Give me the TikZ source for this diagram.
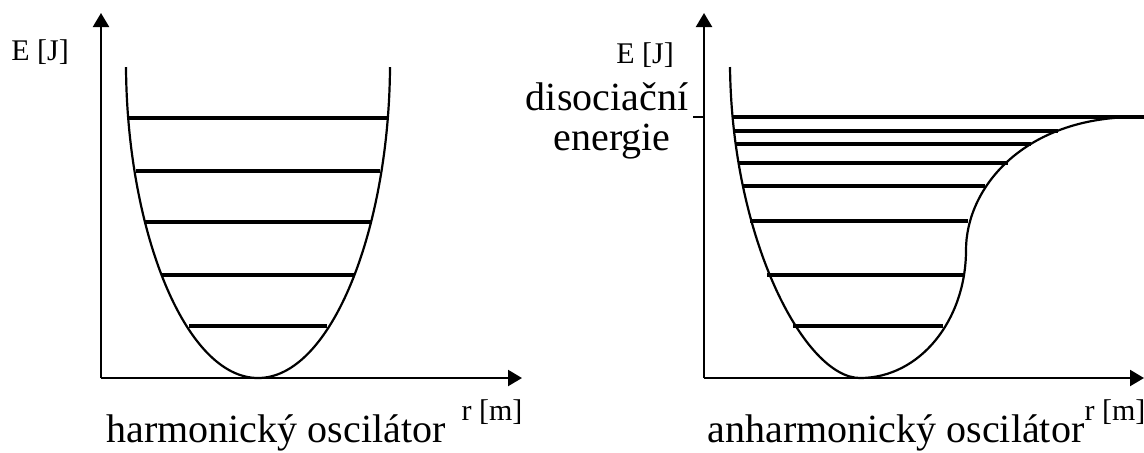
\documentclass[tikz,border=0pt]{standalone}
\usepackage{fontspec}
\setmainfont{Liberation Serif}
\usepackage{tikz}
\usetikzlibrary{arrows.meta,positioning}

\begin{document}
\begin{tikzpicture}[x=0.5pt, y=-0.5pt, >={Triangle[length=7pt,width=8pt]},
    axis/.style={line width=1.1pt},
    curve/.style={line width=1.1pt},
    level/.style={line width=1.6pt},
    unitlabel/.style={font=\fontsize{15}{18}\selectfont, inner sep=0pt},
    caption/.style={font=\fontsize{20}{24}\selectfont, inner sep=0pt}]
    \useasboundingbox (0,0) rectangle (1144,452);

    % Harmonic oscillator: axes
    \coordinate (O1) at (101,378);
    \coordinate (Y1) at (101,13);
    \coordinate (X1) at (522,378);
    \draw[axis,->] (O1) -- (Y1);
    \draw[axis,->] (O1) -- (X1);
    \node[unitlabel] (E1) at (40,52) {E [J]};
    \node[unitlabel] (R1) at (492,412) {r [m]};
    \node[caption] (H1) at (276,433) {harmonický oscilátor};

    % Harmonic well
    \coordinate (B1) at (258,378);
    \draw[curve] (126,67) .. controls (127,230) and (185,378) .. (B1)
        .. controls (331,378) and (389,230) .. (390,67);

    % Equally spaced levels
    \foreach \y/\a/\b in {118/129/387, 171/136/380, 222/145/371, 275/161/355, 326/189/327}
        \draw[level] (\a,\y) -- (\b,\y);

    % Anharmonic oscillator: axes
    \coordinate (O2) at (704,378);
    \coordinate (Y2) at (704,13);
    \coordinate (X2) at (1144,378);
    \draw[axis,->] (O2) -- (Y2);
    \draw[axis,->] (O2) -- (X2);
    \node[unitlabel] (E2) at (645,55) {E [J]};
    \node[unitlabel] (R2) at (1115,412) {r [m]};
    \node[caption] (H2) at (896,433) {anharmonický oscilátor};
    \node[caption] (D) at (607,97) {disociační};
    \node[caption] (D2) at (612,142) {energie};

    % Dissociation tick
    \coordinate (T) at (693,117);
    \draw[axis] (T) -- (O2 |- T);

    % Anharmonic well
    \coordinate (B2) at (860,378);
    \coordinate (S2) at (966,250);
    \draw[curve] (730,67) .. controls (732,240) and (805,378) .. (B2)
        .. controls (920,378) and (966,320) .. (S2)
        .. controls (966,190) and (1020,120) .. (1130,117) -- (1144,117);

    % Levels crowding towards the dissociation limit
    \foreach \y/\a/\b in {117/733/1144, 131/734/1058, 144/736/1031, 163/739/1008,
        186/743/985, 221/750/968, 275/767/964, 326/793/943}
        \draw[level] (\a,\y) -- (\b,\y);
\end{tikzpicture}
\end{document}
